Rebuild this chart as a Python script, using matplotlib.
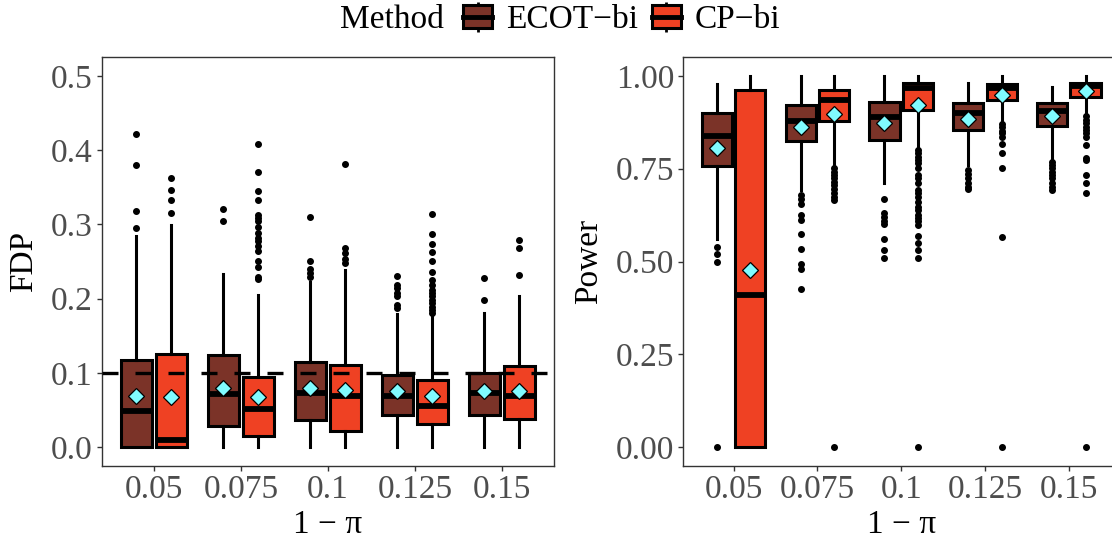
import matplotlib
matplotlib.use('Agg')
import matplotlib.pyplot as plt
from matplotlib.patches import Patch
from matplotlib.lines import Line2D
from matplotlib.legend_handler import HandlerTuple

plt.rcParams['font.family'] = ['Liberation Serif', 'DejaVu Serif']

# categories / methods
groups = ['0.05', '0.075', '0.1', '0.125', '0.15']
methods = ['ECOT\u2212bi', 'CP\u2212bi']
colors = ['#7B3328', '#EF4123']

# FDP, ECOT-bi
fdp_ecot_lo = [0.0, 0.0, 0.0, 0.0, 0.0]
fdp_ecot_q1 = [0.0, 0.029, 0.037, 0.0435, 0.0435]
fdp_ecot_med = [0.048, 0.071, 0.073, 0.0695, 0.0727]
fdp_ecot_q3 = [0.1175, 0.124, 0.114, 0.097, 0.0996]
fdp_ecot_hi = [0.285, 0.233, 0.222, 0.179, 0.181]
fdp_ecot_mean = [0.0695, 0.079, 0.080, 0.075, 0.075]
fdp_ecot_out = [[0.295, 0.318, 0.38, 0.422],
                [0.304, 0.321],
                [0.229, 0.234, 0.240, 0.251, 0.310],
                [0.187, 0.192, 0.203, 0.207, 0.214, 0.218, 0.230],
                [0.198, 0.2275]]

# FDP, CP-bi
fdp_cp_lo = [0.0, 0.0, 0.0, 0.0, 0.0]
fdp_cp_q1 = [0.0, 0.015, 0.022, 0.031, 0.038]
fdp_cp_med = [0.009, 0.052, 0.069, 0.0556, 0.069]
fdp_cp_q3 = [0.125, 0.094, 0.111, 0.0906, 0.1086]
fdp_cp_hi = [0.299, 0.205, 0.239, 0.176, 0.203]
fdp_cp_mean = [0.068, 0.067, 0.077, 0.069, 0.075]
fdp_cp_out = [[0.315, 0.333, 0.346, 0.363],
              [0.227, 0.2297, 0.242, 0.251, 0.264, 0.271, 0.277, 0.281, 0.289,
               0.297, 0.304, 0.308, 0.313, 0.333, 0.345, 0.370, 0.408],
              [0.248, 0.253, 0.261, 0.268, 0.381],
              [0.180, 0.185, 0.189, 0.194, 0.198, 0.203, 0.207, 0.212, 0.218,
               0.225, 0.236, 0.251, 0.263, 0.274, 0.287, 0.314],
              [0.2315, 0.268, 0.2786]]

# Power, ECOT-bi
pow_ecot_lo = [0.560, 0.693, 0.7106, 0.760, 0.778]
pow_ecot_q1 = [0.757, 0.825, 0.827, 0.854, 0.865]
pow_ecot_med = [0.839, 0.879, 0.890, 0.9005, 0.905]
pow_ecot_q3 = [0.901, 0.921, 0.930, 0.928, 0.927]
pow_ecot_hi = [0.979, 1.0, 1.0, 0.982, 0.970]
pow_ecot_mean = [0.806, 0.861, 0.8737, 0.885, 0.8916]
pow_ecot_out = [[0.540, 0.521, 0.500, 0.0],
                [0.679, 0.668, 0.655, 0.625, 0.612, 0.573, 0.533, 0.494, 0.479, 0.4265],
                [0.669, 0.630, 0.621, 0.610, 0.600, 0.560, 0.531, 0.509],
                [0.746, 0.736, 0.724, 0.712, 0.702, 0.694],
                [0.769, 0.760, 0.751, 0.742, 0.733, 0.724, 0.712, 0.7016, 0.6927]]

# Power, CP-bi
pow_cp_lo = [0.0, 0.760, 0.809, 0.876, 0.899]
pow_cp_q1 = [0.0, 0.878, 0.908, 0.9346, 0.9435]
pow_cp_med = [0.4095, 0.9346, 0.966, 0.968, 0.972]
pow_cp_q3 = [0.961, 0.961, 0.981, 0.977, 0.981]
pow_cp_hi = [1.0, 1.0, 1.0, 1.0, 1.0]
pow_cp_mean = [0.4776, 0.897, 0.921, 0.948, 0.958]
pow_cp_out = [[],
              [0.751, 0.742, 0.733, 0.724, 0.715, 0.706, 0.694, 0.684, 0.675, 0.666, 0.0],
              [0.800, 0.791, 0.782, 0.773, 0.764, 0.751, 0.733, 0.724, 0.711, 0.693,
               0.684, 0.675, 0.661, 0.648, 0.639, 0.625, 0.616, 0.608, 0.599, 0.569,
               0.549, 0.531, 0.509, 0.0],
              [0.870, 0.861, 0.852, 0.845, 0.834, 0.816, 0.791, 0.751, 0.567, 0.0],
              [0.8916, 0.881, 0.872, 0.863, 0.854, 0.845, 0.834, 0.814, 0.780, 0.773,
               0.733, 0.712, 0.685, 0.0]]

fdp_target = 0.1


def make_stats(lo, q1, med, q3, hi, mean, out):
    return [dict(whislo=lo[i], q1=q1[i], med=med[i], q3=q3[i], whishi=hi[i],
                 mean=mean[i], fliers=out[i]) for i in range(len(lo))]


def draw_boxes(ax, stats, color, offset):
    pos = [i + 1 + offset for i in range(len(stats))]
    ax.bxp(stats, positions=pos, widths=0.36, patch_artist=True,
           showcaps=False, showmeans=True, manage_ticks=False,
           boxprops=dict(facecolor=color, edgecolor='black', linewidth=2.2),
           medianprops=dict(color='black', linewidth=4.2),
           whiskerprops=dict(color='black', linewidth=2.2),
           flierprops=dict(marker='o', markerfacecolor='black',
                           markeredgecolor='black', markersize=4),
           meanprops=dict(marker='D', markerfacecolor='#80FBFF',
                          markeredgecolor='black', markeredgewidth=0.9,
                          markersize=8, zorder=5))


def style_axis(ax, ylabel, yticks, ylabels, ylim):
    ax.set_xlim(0.4, 5.6)
    ax.set_ylim(*ylim)
    ax.set_xticks(range(1, 6))
    ax.set_xticklabels(groups)
    ax.set_yticks(yticks)
    ax.set_yticklabels(ylabels)
    ax.tick_params(axis='both', labelsize=24, labelcolor='#4D4D4D',
                   color='#333333', length=3.6, width=1.0, pad=3)
    for sp in ax.spines.values():
        sp.set_color('#333333')
        sp.set_linewidth(1.0)
    ax.set_xlabel('1 \u2212 \u03c0', fontsize=24, labelpad=3)
    ax.set_ylabel(ylabel, fontsize=24, labelpad=8)


fig = plt.figure(figsize=(11.12, 5.46), dpi=100)
W, H = 1112.0, 546.0
ax1 = fig.add_axes([101.7 / W, (H - 465.7) / H, 452.3 / W, 408.4 / H])
ax2 = fig.add_axes([683.3 / W, (H - 465.7) / H, 435.8 / W, 408.4 / H])

draw_boxes(ax1, make_stats(fdp_ecot_lo, fdp_ecot_q1, fdp_ecot_med, fdp_ecot_q3,
                           fdp_ecot_hi, fdp_ecot_mean, fdp_ecot_out), colors[0], -0.2)
draw_boxes(ax1, make_stats(fdp_cp_lo, fdp_cp_q1, fdp_cp_med, fdp_cp_q3,
                           fdp_cp_hi, fdp_cp_mean, fdp_cp_out), colors[1], 0.2)
ax1.axhline(fdp_target, color='black', linewidth=2.4,
            linestyle=(0, (4.8, 5.1)), zorder=3)
style_axis(ax1, 'FDP', [0, 0.1, 0.2, 0.3, 0.4, 0.5],
           ['0.0', '0.1', '0.2', '0.3', '0.4', '0.5'], (-0.025, 0.525))

draw_boxes(ax2, make_stats(pow_ecot_lo, pow_ecot_q1, pow_ecot_med, pow_ecot_q3,
                           pow_ecot_hi, pow_ecot_mean, pow_ecot_out), colors[0], -0.2)
draw_boxes(ax2, make_stats(pow_cp_lo, pow_cp_q1, pow_cp_med, pow_cp_q3,
                           pow_cp_hi, pow_cp_mean, pow_cp_out), colors[1], 0.2)
style_axis(ax2, 'Power', [0, 0.25, 0.5, 0.75, 1.0],
           ['0.00', '0.25', '0.50', '0.75', '1.00'], (-0.05, 1.05))

# legend on top
fig.text(340 / W, 1 - 20 / H, 'Method', fontsize=24, ha='left', va='center')
handles = []
for col in colors:
    whisk = Line2D([0], [0], linestyle='None', marker='|', markersize=22,
                   markeredgewidth=2, color='black')
    box = Patch(facecolor=col, edgecolor='black', linewidth=2.2)
    med = Line2D([0], [0], color='black', linewidth=3.5)
    handles.append((whisk, box, med))
fig.legend(handles, methods, loc='center left',
           bbox_to_anchor=(463 / W, 1 - 20 / H), ncol=2, frameon=False,
           fontsize=24, handlelength=0.88, handleheight=0.67,
           handletextpad=0.4, columnspacing=0.42, borderpad=0,
           borderaxespad=0, numpoints=1,
           handler_map={tuple: HandlerTuple(ndivide=1, pad=0)})

fig.savefig('out.png', dpi=100)
